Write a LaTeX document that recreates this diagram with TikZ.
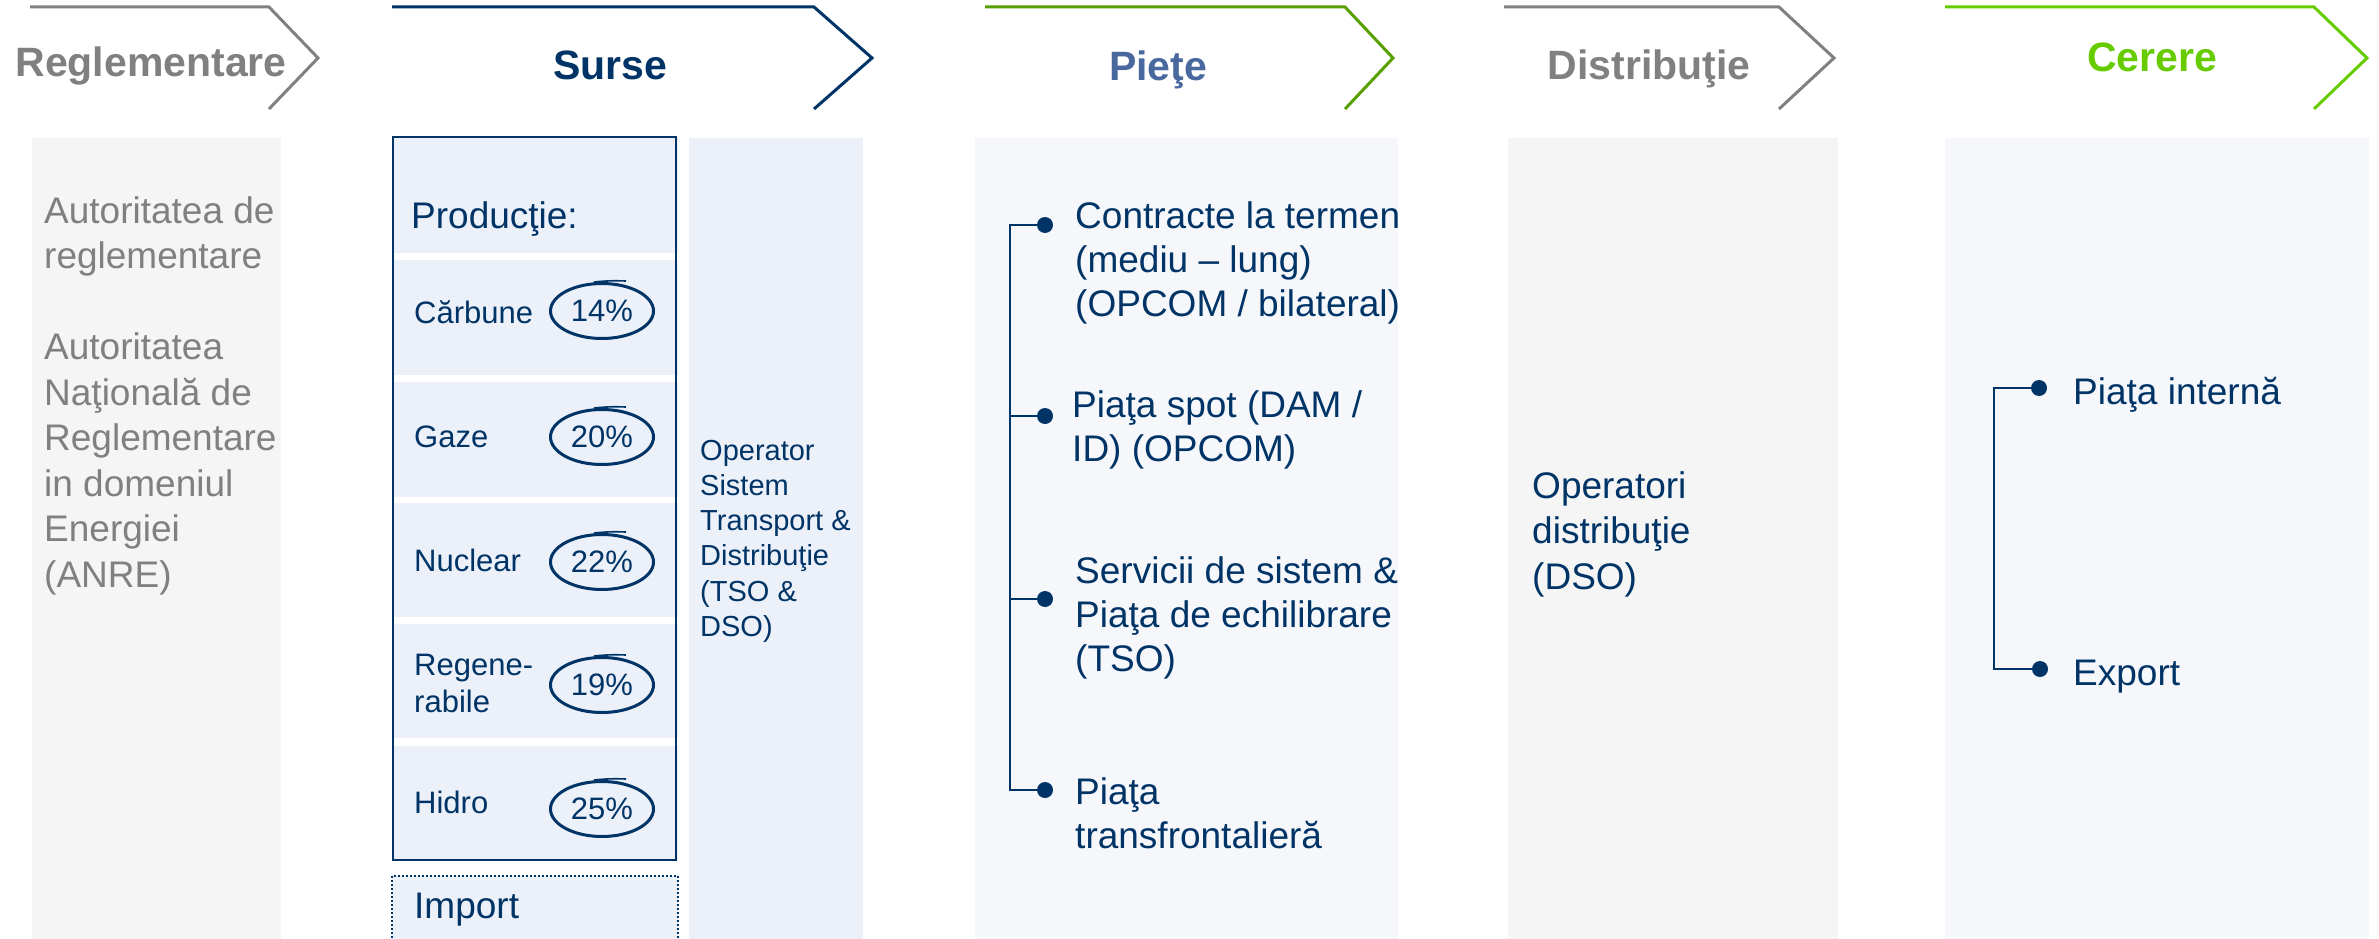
\documentclass[tikz,border=0pt]{standalone}
\usepackage{fontspec}
\setmainfont{Liberation Sans}
\usetikzlibrary{positioning,calc,shapes.geometric}

\definecolor{navy}{RGB}{0,51,102}
\definecolor{midgray}{RGB}{128,128,128}
\definecolor{leaf}{RGB}{102,204,0}
\definecolor{moss}{RGB}{88,160,0}
\definecolor{steel}{RGB}{72,104,158}
\definecolor{paleblue}{RGB}{236,240,248}
\definecolor{palesky}{RGB}{245,247,251}
\definecolor{palegray}{RGB}{245,245,245}

\begin{document}
\begin{tikzpicture}[
  x=1pt, y=-1pt,
  chev/.style={line width=3pt, line join=miter},
  headtxt/.style={anchor=base, inner sep=0, font=\fontsize{41}{41}\selectfont\bfseries},
  body/.style={anchor=base west, inner sep=0, align=left, text=navy,
               font=\fontsize{37}{44}\selectfont},
  small/.style={anchor=base west, inner sep=0, align=left, text=navy,
                font=\fontsize{31}{37}\selectfont},
  pct/.style={ellipse, draw=navy, line width=3pt, inner sep=0, text=navy,
              minimum width=103pt, minimum height=55pt, font=\fontsize{31}{31}\selectfont},
  pen/.style={draw=navy, line width=1.6pt},
  dot/.style={circle, fill=navy, minimum size=16pt, inner sep=0},
  brk/.style={draw=navy, line width=2pt},
]
\useasboundingbox (0,0) rectangle (2379,939);

\fill[palegray] (32,138) rectangle (281,939);
\fill[paleblue] (689,138) rectangle (863,939);
\fill[palesky] (975,138) rectangle (1398,939);
\fill[palegray] (1508,138) rectangle (1838,939);
\fill[palesky] (1945,138) rectangle (2369,939);

\draw[chev, midgray] (30,7) -- (269,7) -- (318,58) -- (269,109);
\draw[chev, navy] (392,7) -- (814,7) -- (872,58) -- (814,109);
\draw[chev, moss] (985,7) -- (1345,7) -- (1393,58) -- (1345,109);
\draw[chev, midgray] (1504,7) -- (1779,7) -- (1834,58) -- (1779,109);
\draw[chev, leaf] (1945,7) -- (2314,7) -- (2367,58) -- (2314,109);

\node[headtxt, text=midgray] (hreg) at (151,77) {Reglementare};
\node[headtxt, text=navy] (hsur) at (610,80) {Surse};
\node[headtxt, text=steel] (hpie) at (1158,81) {Pieţe};
\node[headtxt, text=midgray] (hdis) at (1649,80) {Distribuţie};
\node[headtxt, text=leaf] (hcer) at (2152,72) {Cerere};

\node[body, text=midgray, font=\fontsize{37}{45.5}\selectfont] (anre) at (44,587)
  {Autoritatea de\\reglementare\\[45.5pt]Autoritatea\\Naţională de\\Reglementare\\in domeniul\\Energiei\\(ANRE)};

\fill[paleblue] (393,137) rectangle (678,253);
\foreach \t/\b in {260/375,382/497,503/617,624/738,746/860}
  \fill[paleblue] (393,\t) rectangle (678,\b);
\draw[navy, line width=2.5pt] (393,137) rectangle (676,860);
\node[body] (prod) at (411,228) {Producţie:};

\node[small] (carb) at (414,323) {Cărbune};
\node[small] (gaze) at (414,447) {Gaze};
\node[small] (nucl) at (414,571) {Nuclear};
\node[small] (rege) at (414,712) {Regene-\\rabile};
\node[small] (hidr) at (414,813) {Hidro};

\node[pct] (p1) at (602,311) {14\%};
\node[pct] (p2) at (602,437) {20\%};
\node[pct] (p3) at (602,562) {22\%};
\node[pct] (p4) at (602,685) {19\%};
\node[pct] (p5) at (602,809) {25\%};
\foreach \p in {p1,p2,p3,p4,p5}
  \draw[pen] ([shift={(-8,-29)}]\p.center) to[bend left=4] ([shift={(24,-30)}]\p.center);

\draw[navy, dotted, line width=2pt, fill=paleblue] (392,876) rectangle (678,960);
\node[body] (imp) at (414,918) {Import};

\node[small, font=\fontsize{29}{35.3}\selectfont] (tso) at (700,636.5)
  {Operator\\Sistem\\Transport \&\\Distribuţie\\(TSO \&\\DSO)};

\node[dot] (m1) at (1045,225) {};
\node[dot] (m2) at (1045,416) {};
\node[dot] (m3) at (1045,599) {};
\node[dot] (m4) at (1045,790) {};
\coordinate (mtop) at (1010,225);
\coordinate (mbot) at (1010,790);
\draw[brk] (m1) -- (mtop) -- (mbot) -- (m4);
\draw[brk] (m2) -- (m2 -| mtop);
\draw[brk] (m3) -- (m3 -| mtop);

\node[body] (ctr) at (1075,316) {Contracte la termen\\(mediu – lung)\\(OPCOM / bilateral)};
\node[body] (spot) at (1072,461) {Piaţa spot (DAM /\\ID) (OPCOM)};
\node[body] (serv) at (1075,671) {Servicii de sistem \&\\Piaţa de echilibrare\\(TSO)};
\node[body] (tran) at (1075,848) {Piaţa\\transfrontalieră};

\node[body, font=\fontsize{37}{45.5}\selectfont] (dso) at (1532,589) {Operatori\\distribuţie\\(DSO)};

\node[dot] (c1) at (2039,388) {};
\node[dot] (c2) at (2040,669) {};
\coordinate (ctop) at (1994,388);
\coordinate (cbot) at (1994,669);
\draw[brk] (c1) -- (ctop) -- (cbot) -- (c2);

\node[body] (intern) at (2073,404) {Piaţa internă};
\node[body] (expo) at (2073,685) {Export};
\end{tikzpicture}
\end{document}
